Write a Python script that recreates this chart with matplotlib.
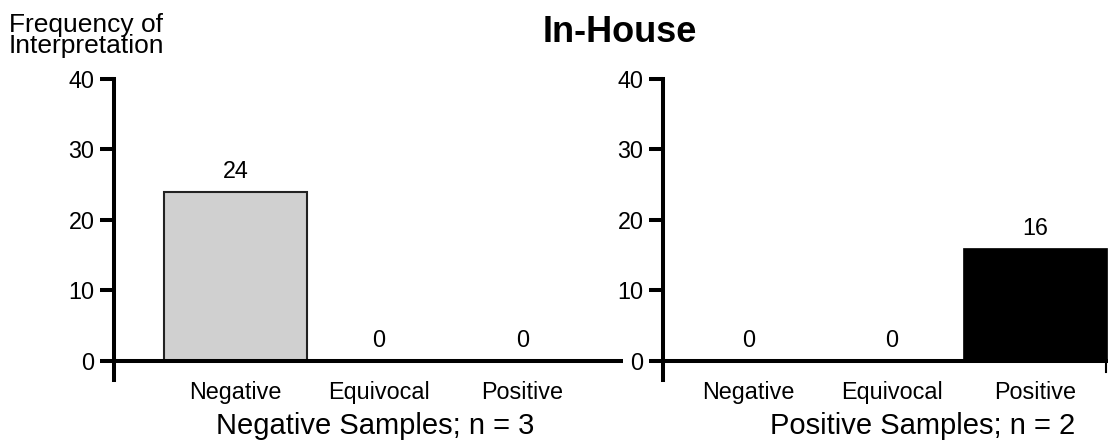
import matplotlib
matplotlib.use("Agg")
import matplotlib.pyplot as plt

plt.rcParams['font.family'] = ['Liberation Sans', 'DejaVu Sans']

categories = ["Negative", "Equivocal", "Positive"]
neg_values = [24, 0, 0]
pos_values = [0, 0, 16]
yticks = [0, 10, 20, 30, 40]
title = "In-House"
ylabel = "Frequency of\nInterpretation"
neg_xlabel = "Negative Samples; n = 3"
pos_xlabel = "Positive Samples; n = 2"

W, H = 1108, 443
fig = plt.figure(figsize=(W / 100, H / 100), dpi=100)

LW = 2.9
FS = 16.8


def make_axes(left_px, right_px, xlim):
    ax = fig.add_axes([left_px / W, 63 / H, (right_px - left_px) / W, (380 - 79) / H])
    ax.set_xlim(*xlim)
    ax.set_ylim(-2.74, 40)
    for s in ["top", "right", "bottom"]:
        ax.spines[s].set_visible(False)
    ax.spines["left"].set_linewidth(LW)
    ax.set_yticks(yticks)
    ax.tick_params(axis="y", length=10, width=LW, labelsize=FS, pad=4)
    ax.set_xticks(range(len(categories)))
    ax.set_xticklabels(categories)
    ax.tick_params(axis="x", length=0, labelsize=FS, pad=1)
    ax.plot(list(xlim), [0, 0], color="black", lw=LW, zorder=3,
            solid_capstyle="butt", clip_on=False)
    return ax


def label_bars(ax, values):
    for i, v in enumerate(values):
        ax.annotate(str(v), (i, v), xytext=(0, 6), textcoords="offset points",
                    ha="center", va="bottom", fontsize=FS)


ax1 = make_axes(114, 623, (-0.847, 2.70))
ax1.bar(range(3), neg_values, width=1.0, color="#d0d0d0", edgecolor="#222222",
        linewidth=1.5, zorder=1)
label_bars(ax1, neg_values)

ax2 = make_axes(663, 1108, (-0.594, 2.507))
ax2.bar(range(3), pos_values, width=1.0, color="black", edgecolor="black",
        linewidth=0.5, zorder=1)
label_bars(ax2, pos_values)
ax2.plot([2.495, 2.495], [0, -1.6], color="black", lw=1.5, clip_on=False)

fig.text(620 / W, 1 - 32 / H, title, ha="center", va="center",
         fontsize=26, fontweight="bold")
fig.text(9 / W, 1 - 13 / H, ylabel, ha="left", va="top", fontsize=19,
         linespacing=0.85)
fig.text(375 / W, 1 - 426 / H, neg_xlabel, ha="center", va="center", fontsize=21)
fig.text(923 / W, 1 - 426 / H, pos_xlabel, ha="center", va="center", fontsize=21)

fig.savefig("out.png", dpi=100)
